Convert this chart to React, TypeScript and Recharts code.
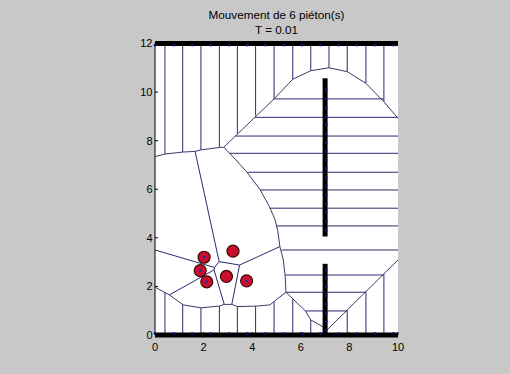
import React from 'react';
import { ScatterChart, Scatter, XAxis, YAxis, CartesianGrid } from 'recharts';

const xTicks = [0, 2, 4, 6, 8, 10];
const yTicks = [0, 2, 4, 6, 8, 10, 12];

// pedestrians (x, y) and whether a blue centre mark is visible
const pedX = [2.02, 3.21, 1.86, 2.13, 2.94, 3.77];
const pedY = [3.2, 3.45, 2.65, 2.19, 2.41, 2.23];
const pedMark = [true, false, true, true, false, true];

// hatch lines coming down from the top wall
const topHatchX = [0.41, 1.14, 1.89, 2.65, 3.39, 4.14, 4.9, 5.67, 6.41, 7.16, 7.91, 8.68, 9.42];
const topHatchEnd = [7.45, 7.53, 7.62, 7.73, 8.29, 9.03, 9.72, 10.53, 10.88, 11.0, 10.84, 10.36, 9.6];

// hatch lines going up from the bottom wall
const bottomHatchX = [0.41, 1.14, 1.89, 2.65, 3.39, 4.14, 4.9, 5.67, 6.41, 7.91, 8.68, 9.42];
const bottomHatchEnd = [1.75, 1.25, 1.12, 1.19, 1.17, 1.19, 1.38, 1.49, 0.62, 1.02, 1.78, 2.5];

// horizontal hatch lines around the middle wall
const sideHatchY = [9.72, 8.96, 8.19, 7.48, 6.7, 5.97, 5.22, 4.49, 3.5, 2.47, 1.76, 0.99];
const sideHatchStart = [4.9, 4.11, 3.31, 3.06, 3.79, 4.32, 4.72, 5.0, 5.2, 5.36, 5.39, 6.19];
const sideHatchEnd = [9.42, 10, 10, 10, 10, 10, 10, 10, 10, 9.42, 8.68, 7.91];

// cell boundaries (polylines)
const topLeftBoundary = [
  { x: 0, y: 7.34 }, { x: 0.41, y: 7.45 }, { x: 1.14, y: 7.53 }, { x: 1.65, y: 7.56 },
  { x: 1.89, y: 7.62 }, { x: 2.65, y: 7.72 }, { x: 2.83, y: 7.73 },
];
const topDiagonal = [{ x: 2.83, y: 7.73 }, { x: 4.9, y: 9.72 }];
const arch = [
  { x: 4.9, y: 9.72 }, { x: 5.67, y: 10.53 }, { x: 6.41, y: 10.88 }, { x: 7.16, y: 11.0 },
  { x: 7.91, y: 10.84 }, { x: 8.68, y: 10.36 }, { x: 9.42, y: 9.6 }, { x: 10, y: 8.92 },
];
const rightBoundary = [
  { x: 2.83, y: 7.73 }, { x: 3.3, y: 7.24 }, { x: 3.77, y: 6.72 }, { x: 4.32, y: 5.99 },
  { x: 4.7, y: 5.3 }, { x: 4.94, y: 4.75 }, { x: 5.05, y: 4.3 }, { x: 5.14, y: 3.64 },
  { x: 5.28, y: 3.09 }, { x: 5.36, y: 2.4 }, { x: 5.39, y: 1.76 },
];
const lowerLeftDiagonal = [
  { x: 5.39, y: 1.76 }, { x: 5.67, y: 1.49 }, { x: 6.19, y: 0.99 }, { x: 6.41, y: 0.62 },
  { x: 6.94, y: 0.32 }, { x: 7.07, y: 0.2 },
];
const lowerRightDiagonal = [{ x: 7.07, y: 0.2 }, { x: 10, y: 3.09 }];
const bottomBoundary = [
  { x: 0, y: 1.97 }, { x: 0.59, y: 1.65 }, { x: 1.16, y: 1.24 }, { x: 1.89, y: 1.12 },
  { x: 2.65, y: 1.19 }, { x: 2.85, y: 1.26 }, { x: 3.16, y: 1.26 }, { x: 3.39, y: 1.17 },
  { x: 4.19, y: 1.19 }, { x: 4.73, y: 1.24 }, { x: 4.9, y: 1.38 }, { x: 5.39, y: 1.76 },
];
// edges between pedestrian cells
const innerEdges = [
  [{ x: 1.65, y: 7.56 }, { x: 2.64, y: 3.02 }],
  [{ x: 2.64, y: 3.02 }, { x: 3.48, y: 2.88 }],
  [{ x: 3.48, y: 2.88 }, { x: 5.14, y: 3.64 }],
  [{ x: 2.64, y: 3.02 }, { x: 2.45, y: 2.78 }],
  [{ x: 2.45, y: 2.78 }, { x: 0, y: 3.5 }],
  [{ x: 2.45, y: 2.78 }, { x: 2.43, y: 2.68 }],
  [{ x: 2.43, y: 2.68 }, { x: 0.59, y: 1.65 }],
  [{ x: 2.43, y: 2.68 }, { x: 2.85, y: 1.26 }],
  [{ x: 3.48, y: 2.88 }, { x: 3.16, y: 1.26 }],
];

// walls
const walls = [
  [{ x: 0, y: 12 }, { x: 10, y: 12 }],
  [{ x: 0, y: 0 }, { x: 10, y: 0 }],
  [{ x: 7, y: 4.05 }, { x: 7, y: 10.57 }],
  [{ x: 7, y: 0 }, { x: 7, y: 2.93 }],
];
const wallDotX = [0, 0.77, 1.53, 2.29, 3.05, 3.8, 4.55, 5.3, 6.05, 6.8, 7.55, 8.3, 9.05, 9.8];
const wallDotUpperY = [10.1, 9.72, 9.37, 9.0, 8.65, 8.28, 7.93, 7.55, 7.2, 6.85, 6.48, 6.12, 5.76, 5.4, 5.05, 4.68, 4.32];
const wallDotLowerY = [2.7, 2.35, 1.98, 1.62, 1.27, 0.9, 0.55, 0.2];

const LINE = '#2a2a6e';
const CURVE = '#3a3a68';

const Empty = () => <g />;

const topHatch = topHatchX.map((x, i) => [{ x, y: 12 }, { x, y: topHatchEnd[i] }]);
const bottomHatch = bottomHatchX.map((x, i) => [{ x, y: 0 }, { x, y: bottomHatchEnd[i] }]);
const sideHatch = sideHatchY.map((y, i) => [{ x: sideHatchStart[i], y }, { x: sideHatchEnd[i], y }]);
const curves = [topLeftBoundary, topDiagonal, arch, rightBoundary, lowerLeftDiagonal, lowerRightDiagonal, bottomBoundary];

const wallDots = [
  ...wallDotX.map((x) => ({ x, y: 11.93 })),
  ...wallDotX.map((x) => ({ x, y: 0.07 })),
  ...wallDotUpperY.map((y) => ({ x: 7.05, y })),
  ...wallDotLowerY.map((y) => ({ x: 7.05, y })),
];
const pedestrians = pedX.map((x, i) => ({ x, y: pedY[i], mark: pedMark[i] }));

const WallDot = (p: any) => <circle cx={p.cx} cy={p.cy} r={1.3} fill="#15158a" />;
const Pedestrian = (p: any) => (
  <g>
    <circle cx={p.cx} cy={p.cy} r={6} fill="#c8102a" stroke="#3a0808" strokeWidth={1.2} />
    {p.payload && p.payload.mark ? <circle cx={p.cx} cy={p.cy} r={1.4} fill="#2a2ab0" /> : null}
  </g>
);

const font = '"Liberation Sans", Arial, Helvetica, sans-serif';

export default function App() {
  const lineScatter = (data: any[], key: string, stroke: string, width = 1) => (
    <Scatter
      key={key}
      data={data}
      fill={stroke}
      line={{ stroke, strokeWidth: width }}
      shape={Empty}
      isAnimationActive={false}
    />
  );
  return (
    <div style={{ position: 'absolute', left: 0, top: 0, width: 510, height: 374, background: '#c8c8c8', overflow: 'hidden' }}>
      <div
        style={{
          position: 'absolute', left: 0, width: 553, top: 6.5, textAlign: 'center',
          fontFamily: font, fontSize: 11.7, lineHeight: '15px', color: '#000',
        }}
      >
        <div>Mouvement de 6 piéton(s)</div>
        <div>T = 0.01</div>
      </div>
      <ScatterChart width={510} height={374} margin={{ top: 43.5, right: 112, bottom: 9, left: 125 }}>
        <CartesianGrid horizontal={false} vertical={false} fill="#ffffff" stroke="none" />
        <XAxis
          type="number"
          dataKey="x"
          domain={[0, 10]}
          ticks={xTicks}
          height={30}
          tickSize={-3}
          tickMargin={11}
          stroke="#000"
          tick={{ fill: '#000', fontSize: 11, fontFamily: font }}
        />
        <YAxis
          type="number"
          dataKey="y"
          domain={[0, 12]}
          ticks={yTicks}
          width={30}
          tickSize={-3}
          tickMargin={5.5}
          stroke="#000"
          tick={{ fill: '#000', fontSize: 11, fontFamily: font }}
        />
        {topHatch.map((d, i) => lineScatter(d, 'th' + i, LINE))}
        {bottomHatch.map((d, i) => lineScatter(d, 'bh' + i, LINE))}
        {sideHatch.map((d, i) => lineScatter(d, 'sh' + i, LINE))}
        {curves.map((d, i) => lineScatter(d, 'cv' + i, CURVE))}
        {innerEdges.map((d, i) => lineScatter(d, 'ie' + i, LINE))}
        {walls.map((d, i) => lineScatter(d, 'w' + i, '#000000', 5))}
        <Scatter data={wallDots} fill="#15158a" shape={WallDot} isAnimationActive={false} />
        <Scatter data={pedestrians} fill="#c8102a" shape={Pedestrian} isAnimationActive={false} />
      </ScatterChart>
    </div>
  );
}
